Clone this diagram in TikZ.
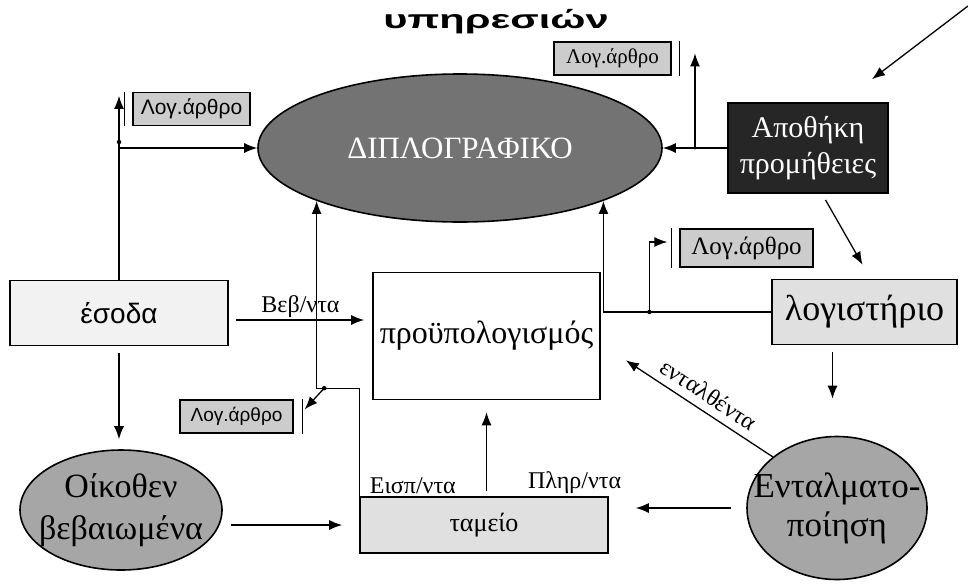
\documentclass[tikz,border=0pt]{standalone}
\usepackage{fontspec}
\setmainfont{Liberation Serif}
\setsansfont{Liberation Sans}
\newfontfamily\titolofont{Liberation Sans}[FakeStretch=1.6]
\usetikzlibrary{arrows.meta,calc,shapes.geometric}

\begin{document}
\begin{tikzpicture}[x=1pt, y=-1pt, >={Latex[length=13pt,width=10pt]}, line width=1.3pt,
  processo/.style={draw, line width=1.6pt, align=center, inner sep=2pt},
  cerchio/.style={processo, ellipse, inner ysep=0pt},
  logart/.style={draw, line width=1.3pt, fill=black!20, font=\sffamily\fontsize{21}{23}\selectfont, minimum width=117pt, minimum height=33pt, inner sep=1pt},
  etich/.style={font=\fontsize{24}{26}\selectfont, inner sep=2pt},
  punto/.style={circle, fill, inner sep=1.6pt}]
\useasboundingbox (0,0) rectangle (968,584);
\node[font=\titolofont\bfseries\fontsize{26}{28}\selectfont] (titolo) at (496,22) {υπηρεσιών};
\node[cerchio, fill=black!55, text=white, minimum width=404pt, minimum height=148pt, font=\fontsize{31}{32}\selectfont] (dipl) at (460,148) {ΔΙΠΛΟΓΡΑΦΙΚΟ};
\node[processo, fill=black!85, text=white, minimum width=160pt, minimum height=90pt, font=\fontsize{30}{36}\selectfont] (apoth) at (808,148) {Αποθήκη\\προμήθειες};
\node[processo, fill=black!5, minimum width=218pt, minimum height=65pt, font=\sffamily\fontsize{28}{30}\selectfont] (esoda) at (119,313) {έσοδα};
\node[processo, fill=white, minimum width=227pt, minimum height=127pt, font=\fontsize{32}{34}\selectfont] (proup) at (486.5,336) {προϋπολογισμός};
\node[processo, fill=black!12, minimum width=185pt, minimum height=65pt, font=\fontsize{36}{38}\selectfont] (logist) at (864.5,312) {λογιστήριο};
\node[processo, fill=black!12, minimum width=248pt, minimum height=56pt, font=\fontsize{26}{28}\selectfont] (tameio) at (484,525) {ταμείο};
\node[cerchio, fill=black!35, inner xsep=-14pt, minimum width=202pt, minimum height=120pt, font=\fontsize{34}{42}\selectfont] (oikoth) at (121,510) {Οίκοθεν\\βεβαιωμένα};
\node[cerchio, fill=black!35, inner xsep=-24pt, minimum width=180pt, minimum height=143pt, font=\fontsize{35}{39}\selectfont] (entalm) at (837,508) {Ενταλματο-\\ποίηση};
% αποθήκες λογαριασμών (Λογ. άρθρο)
\node[logart] (la1) at (191.5,109) {Λογ.άρθρο};
\node[logart, font=\fontsize{21}{23}\selectfont] (la2) at (612.5,58.5) {Λογ.άρθρο};
\node[logart, minimum width=133pt, minimum height=38pt, font=\fontsize{25}{27}\selectfont] (la3) at (746.5,248) {Λογ.άρθρο};
\node[logart, minimum width=113pt, font=\sffamily\fontsize{19}{21}\selectfont] (la4) at (236.5,416.5) {Λογ.άρθρο};
\draw ([xshift=-8pt]la1.north west) -- ([xshift=-8pt]la1.south west);
\draw ([xshift=8pt]la2.north east) -- ([xshift=8pt]la2.south east);
\draw ([xshift=-8pt]la3.north west) -- ([xshift=-8pt]la3.south west);
\draw ([xshift=9pt]la4.north east) -- ([xshift=9pt]la4.south east);
% ροές
\draw[->] (esoda.north) |- (dipl.west);
\node[punto, yshift=6pt] (p1) at (esoda.north |- dipl.west) {};
\draw[->, shorten >=4pt] (esoda.north |- dipl.west) -- (esoda.north |- la1.north);
\draw[->, shorten <=7pt, shorten >=10pt] (esoda.south) -- (esoda.south |- oikoth.north);
\draw[->, shorten <=7pt, shorten >=8pt] ($(esoda.east)+(0,7)$) -- node[etich, above] (bev) {Βεβ/ντα} ($(esoda.east -| proup.west)+(0,7)$);
\draw[->] (apoth.west) -- (dipl.east);
\coordinate (r2) at ($(apoth.west)!0.5!(dipl.east)$);
\node[punto, inner sep=1.2pt] (p2) at (r2) {};
\draw[->, shorten >=12pt] (r2) -- (r2 |- la2.north);
\coordinate (fuori) at (968,6);
\draw[->] (fuori) -- ([shift={(64pt,23pt)}]apoth.north);
\draw[->, shorten <=7pt, shorten >=16pt] ([xshift=14pt]apoth.south) -- ([xshift=6pt]logist.north);
\draw[->] (logist.west) -| (dipl.south east);
\coordinate (r3) at ($(la3.west |- logist.west)+(-30,0)$);
\node[punto] (p3) at (r3) {};
\draw[->, shorten >=12pt] (r3) |- ([yshift=6pt]la3.west);
\draw[->] (tameio.north west) -- ++(0,-108) -| (dipl.south west);
\coordinate (r4) at ($(tameio.north west)+(-35,-108)$);
\node[punto] (p4) at (r4) {};
\draw[->] (r4) -- ([shift={(11pt,-10pt)}]la4.north east);
\node[etich, anchor=south west] (eisp) at ([xshift=8pt]tameio.north west) {Εισπ/ντα};
\node[etich, anchor=south east] (plir) at ([xshift=15pt]tameio.north east) {Πληρ/ντα};
\draw[->, shorten <=5pt, shorten >=12pt] (proup.south |- tameio.north) -- (proup.south);
\draw[->, shorten <=8pt, shorten >=17pt] (oikoth.east |- tameio.west) -- (tameio.west);
\draw[->, shorten <=15pt, shorten >=27pt] (entalm.west) -- (entalm.west -| tameio.east);
\draw[->, shorten <=7pt, shorten >=37pt] ([xshift=-32pt]logist.south) -- ([xshift=-32pt]logist.south |- entalm.north);
\draw[<-] ([shift={(25pt,40pt)}]proup.south east) -- node[etich, sloped, above=6pt] (ental) {ενταλθέντα} (entalm.north west);
\end{tikzpicture}
\end{document}
